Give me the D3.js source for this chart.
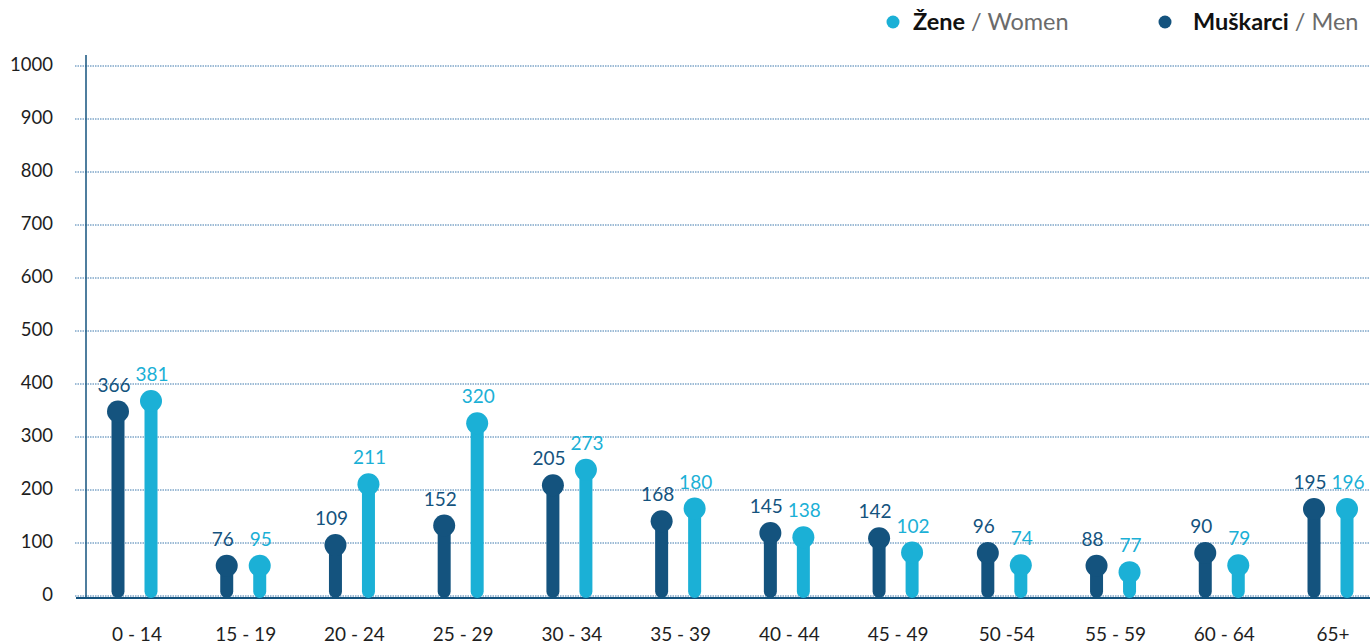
<!DOCTYPE html>
<html>
<head>
<meta charset="utf-8">
<script src="https://cdn.jsdelivr.net/npm/d3@7"></script>
<style>
  body { margin: 0; background: #fff; font-family: Lato, 'Open Sans', sans-serif; }
</style>
</head>
<body>
<div id="chart"></div>
<script>
// age groups and counts (labels) plus where the dots sit in the picture
let ageGroups = ['0 - 14', '15 - 19', '20 - 24', '25 - 29', '30 - 34', '35 - 39', '40 - 44', '45 - 49', '50 -54', '55 - 59', '60 - 64', '65+']
let menLabels = [366, 76, 109, 152, 205, 168, 145, 142, 96, 88, 90, 195]
let womenLabels = [381, 95, 211, 320, 273, 180, 138, 102, 74, 77, 79, 196]
let menPlotted = [348, 57, 96, 133, 209, 141, 119, 109, 81, 57, 81, 164]
let womenPlotted = [368, 57, 211, 326, 238, 165, 111, 82, 58, 45, 58, 164]
let yTicks = [0, 100, 200, 300, 400, 500, 600, 700, 800, 900, 1000]

let width = 1370
let height = 644
let menColor = '#14537e'
let womenColor = '#1bb0d6'

let svg = d3
  .select('#chart')
  .append('svg')
  .attr('width', width)
  .attr('height', height)

let y = d3.scaleLinear().domain([0, 1000]).range([596, 66])
let x = d3.scalePoint().domain(ageGroups).range([137, 1333])
let sub = d3.scalePoint().domain(['men', 'women']).range([-19, 14])

// gridlines
svg
  .selectAll('.grid')
  .data(yTicks)
  .enter()
  .append('line')
  .attr('class', 'grid')
  .attr('x1', 75)
  .attr('x2', width)
  .attr('y1', d => y(d))
  .attr('y2', d => y(d))
  .attr('stroke', '#3d78ad')
  .attr('stroke-width', 1)
  .attr('stroke-dasharray', '1.5,1')

// y tick labels
svg
  .selectAll('.ytick')
  .data(yTicks)
  .enter()
  .append('text')
  .attr('class', 'ytick')
  .attr('x', 53)
  .attr('y', d => y(d) + 5)
  .attr('text-anchor', 'end')
  .attr('font-size', 18.5)
  .attr('fill', '#1e1e1e')
  .text(d => d)

// axes lines
svg.append('line')
  .attr('x1', 86).attr('x2', 86)
  .attr('y1', 55).attr('y2', 598)
  .attr('stroke', '#14537e').attr('stroke-width', 1.5)
svg.append('line')
  .attr('x1', 76).attr('x2', width)
  .attr('y1', 598).attr('y2', 598)
  .attr('stroke', '#14537e').attr('stroke-width', 2)

let rows = ageGroups.map((g, i) => [
  { group: g, key: 'men', level: menPlotted[i], label: menLabels[i], color: menColor },
  { group: g, key: 'women', level: womenPlotted[i], label: womenLabels[i], color: womenColor }
]).flat()

let r = 11
let stem = 13

let lolly = svg
  .selectAll('.lolly')
  .data(rows)
  .enter()
  .append('g')
  .attr('class', 'lolly')
  .attr('transform', d => 'translate(' + (x(d.group) + sub(d.key)) + ',0)')

lolly.append('line')
  .attr('x1', 0).attr('x2', 0)
  .attr('y1', d => y(d.level))
  .attr('y2', y(0) - stem / 2 + 2)
  .attr('stroke', d => d.color)
  .attr('stroke-width', stem)
  .attr('stroke-linecap', 'round')

lolly.append('circle')
  .attr('cx', 0)
  .attr('cy', d => y(d.level))
  .attr('r', r)
  .attr('fill', d => d.color)

lolly.append('text')
  .attr('x', d => d.key === 'men' ? -4 : 1)
  .attr('y', d => y(d.level) - r - 9)
  .attr('text-anchor', 'middle')
  .attr('font-size', 19)
  .attr('fill', d => d.color)
  .text(d => d.label)

// x labels
svg
  .selectAll('.xlabel')
  .data(ageGroups)
  .enter()
  .append('text')
  .attr('class', 'xlabel')
  .attr('x', d => x(d))
  .attr('y', 641)
  .attr('text-anchor', 'middle')
  .attr('font-size', 19)
  .attr('fill', '#1e1e1e')
  .text(d => d)

// legend
let legend = [
  { bold: 'Žene', rest: ' / Women', color: womenColor, x: 893, tx: 20 },
  { bold: 'Muškarci', rest: ' / Men', color: menColor, x: 1165, tx: 28 }
]

let lg = svg
  .selectAll('.legend')
  .data(legend)
  .enter()
  .append('g')
  .attr('class', 'legend')
  .attr('transform', d => 'translate(' + d.x + ',22)')

lg.append('circle').attr('r', 6.5).attr('fill', d => d.color)

let lt = lg.append('text')
  .attr('x', d => d.tx)
  .attr('y', 8)
  .attr('font-size', 23.5)

lt.append('tspan').attr('font-weight', 'bold').attr('fill', '#111').text(d => d.bold)
lt.append('tspan').attr('fill', '#6b6b6b').text(d => d.rest)
</script>
</body>
</html>
